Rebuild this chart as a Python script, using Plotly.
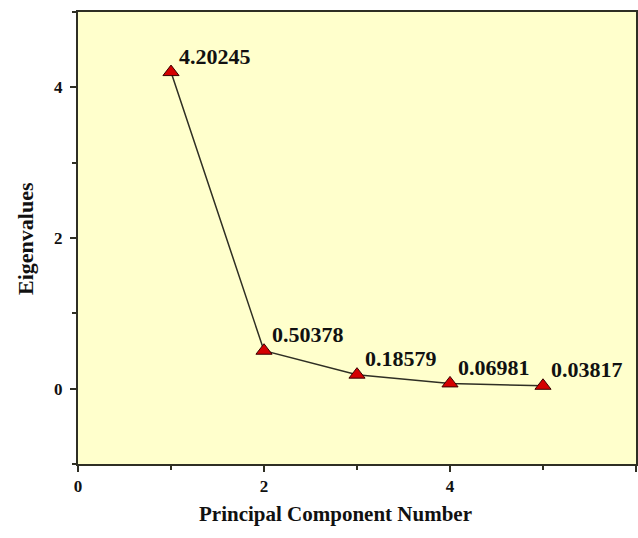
import plotly.graph_objects as go

pc = [1, 2, 3, 4, 5]
eigen = [4.20245, 0.50378, 0.18579, 0.06981, 0.03817]
labels = ["4.20245", "0.50378", "0.18579", "0.06981", "0.03817"]

font_family = "Liberation Serif, Times New Roman, serif"
axis_color = "#2f2f24"

fig = go.Figure()
fig.add_trace(go.Scatter(
    x=pc, y=eigen, mode="lines+markers",
    line=dict(color=axis_color, width=1.5),
    marker=dict(symbol="triangle-up", size=14, color="#d40000",
                line=dict(color="#3a0000", width=1)),
    showlegend=False, cliponaxis=False,
))

for xv, yv, t in zip(pc, eigen, labels):
    fig.add_annotation(x=xv, y=yv, text="<b>%s</b>" % t, showarrow=False,
                       xanchor="left", yanchor="middle", xshift=6, yshift=16,
                       font=dict(family=font_family, size=22, color="#111"))

fig.add_annotation(x=0.462, y=-0.11, xref="paper", yref="paper",
                   text="<b>Principal Component Number</b>", showarrow=False,
                   xanchor="center", yanchor="middle",
                   font=dict(family=font_family, size=21, color="#111"))
fig.add_annotation(x=-0.095, y=0.5, xref="paper", yref="paper",
                   text="<b>Eigenvalues</b>", showarrow=False, textangle=-90,
                   xanchor="center", yanchor="middle",
                   font=dict(family=font_family, size=22, color="#111"))

axis_common = dict(
    showline=True, linecolor=axis_color, linewidth=2, mirror=True,
    showgrid=False, zeroline=False, ticks="outside", ticklen=6, tickwidth=1.5,
    tickcolor=axis_color,
    tickfont=dict(family=font_family, size=17, color="#111", weight="bold"),
)

fig.update_xaxes(range=[0, 6], tick0=0, dtick=2,
                 minor=dict(ticks="outside", dtick=1, ticklen=4, tickcolor=axis_color),
                 **axis_common)
fig.update_yaxes(range=[-1, 5], tick0=0, dtick=2, ticklabelstandoff=4,
                 minor=dict(ticks="outside", dtick=1, ticklen=4, tickcolor=axis_color),
                 **axis_common)

fig.update_layout(
    width=638, height=538,
    margin=dict(l=78, r=0, t=12, b=74),
    paper_bgcolor="white", plot_bgcolor="#ffffcc",
)

fig.write_html("out.html")
